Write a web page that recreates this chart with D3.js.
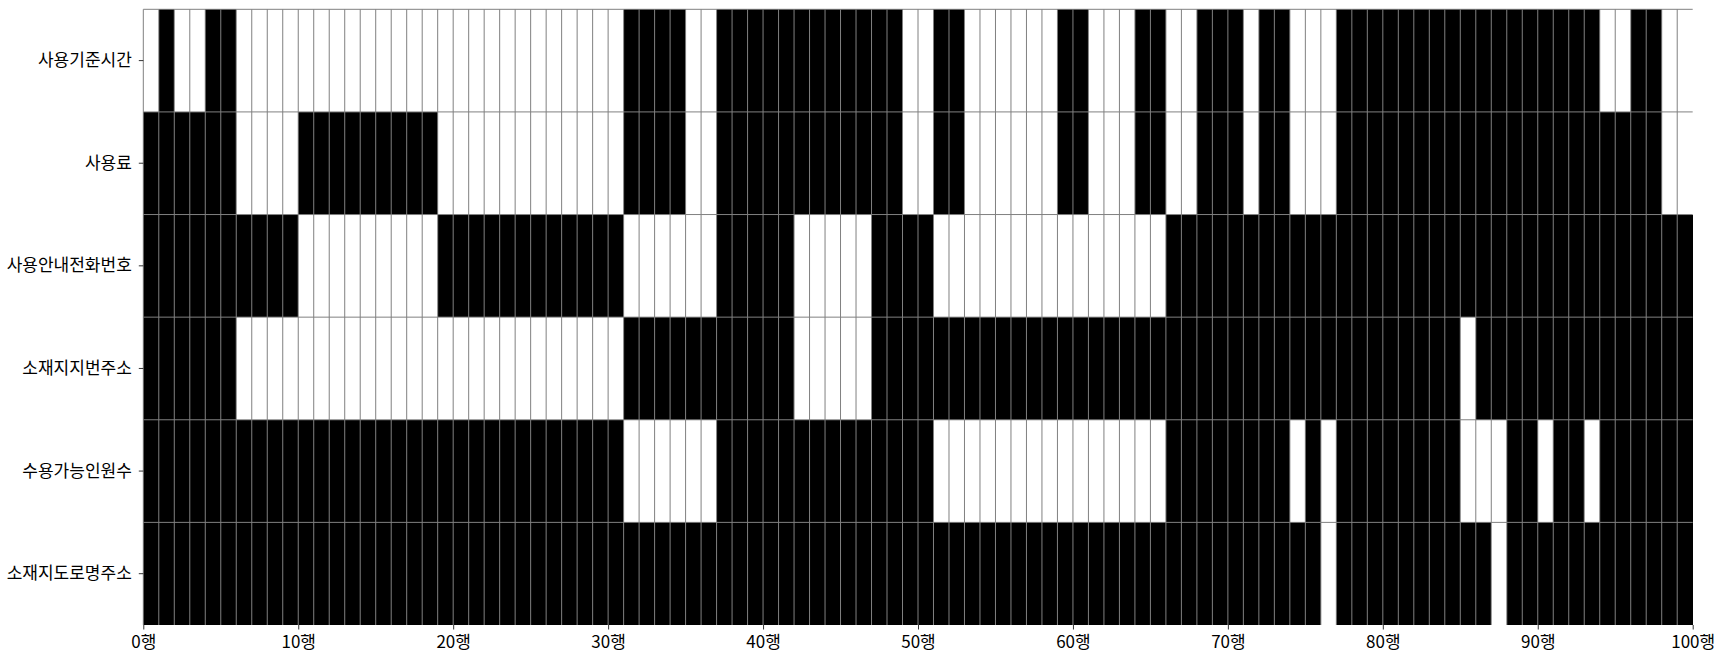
<!DOCTYPE html>
<html>
<head>
<meta charset="utf-8">
<script src="https://cdn.jsdelivr.net/npm/d3@7"></script>
<style>
  html, body { margin: 0; padding: 0; background: #fff; }
  svg { display: block; }
  text { font-family: "Noto Sans CJK KR", "Noto Sans", sans-serif; }
</style>
</head>
<body>
<svg id="chart" width="1725" height="662"></svg>
<script>
// Column names (rows of the heatmap)
const columns = ["사용기준시간", "사용료", "사용안내전화번호", "소재지지번주소", "수용가능인원수", "소재지도로명주소"];

// Presence (1 = value present / black, 0 = missing / white) for records 0..99
const 사용기준시간 = [
  0,1,0,0,1,1,0,0,0,0, 0,0,0,0,0,0,0,0,0,0, 0,0,0,0,0,0,0,0,0,0,
  0,1,1,1,1,0,0,1,1,1, 1,1,1,1,1,1,1,1,1,0, 0,1,1,0,0,0,0,0,0,1,
  1,0,0,0,1,1,0,0,1,1, 1,0,1,1,0,0,0,1,1,1, 1,1,1,1,1,1,1,1,1,1,
  1,1,1,1,0,0,1,1,0,0
];
const 사용료 = [
  1,1,1,1,1,1,0,0,0,0, 1,1,1,1,1,1,1,1,1,0, 0,0,0,0,0,0,0,0,0,0,
  0,1,1,1,1,0,0,1,1,1, 1,1,1,1,1,1,1,1,1,0, 0,1,1,0,0,0,0,0,0,1,
  1,0,0,0,1,1,0,0,1,1, 1,0,1,1,0,0,0,1,1,1, 1,1,1,1,1,1,1,1,1,1,
  1,1,1,1,1,1,1,1,0,0
];
const 사용안내전화번호 = [
  1,1,1,1,1,1,1,1,1,1, 0,0,0,0,0,0,0,0,0,1, 1,1,1,1,1,1,1,1,1,1,
  1,0,0,0,0,0,0,1,1,1, 1,1,0,0,0,0,0,1,1,1, 1,0,0,0,0,0,0,0,0,0,
  0,0,0,0,0,0,1,1,1,1, 1,1,1,1,1,1,1,1,1,1, 1,1,1,1,1,1,1,1,1,1,
  1,1,1,1,1,1,1,1,1,1
];
const 소재지지번주소 = [
  1,1,1,1,1,1,0,0,0,0, 0,0,0,0,0,0,0,0,0,0, 0,0,0,0,0,0,0,0,0,0,
  0,1,1,1,1,1,1,1,1,1, 1,1,0,0,0,0,0,1,1,1, 1,1,1,1,1,1,1,1,1,1,
  1,1,1,1,1,1,1,1,1,1, 1,1,1,1,1,1,1,1,1,1, 1,1,1,1,1,0,1,1,1,1,
  1,1,1,1,1,1,1,1,1,1
];
const 수용가능인원수 = [
  1,1,1,1,1,1,1,1,1,1, 1,1,1,1,1,1,1,1,1,1, 1,1,1,1,1,1,1,1,1,1,
  1,0,0,0,0,0,0,1,1,1, 1,1,1,1,1,1,1,1,1,1, 1,0,0,0,0,0,0,0,0,0,
  0,0,0,0,0,0,1,1,1,1, 1,1,1,1,0,1,0,1,1,1, 1,1,1,1,1,0,0,0,1,1,
  0,1,1,0,1,1,1,1,1,1
];
const 소재지도로명주소 = [
  1,1,1,1,1,1,1,1,1,1, 1,1,1,1,1,1,1,1,1,1, 1,1,1,1,1,1,1,1,1,1,
  1,1,1,1,1,1,1,1,1,1, 1,1,1,1,1,1,1,1,1,1, 1,1,1,1,1,1,1,1,1,1,
  1,1,1,1,1,1,1,1,1,1, 1,1,1,1,1,1,0,1,1,1, 1,1,1,1,1,1,1,0,1,1,
  1,1,1,1,1,1,1,1,1,1
];
const xTicks = [0, 10, 20, 30, 40, 50, 60, 70, 80, 90, 100];
const xTickSuffix = "행";

const rowsData = [사용기준시간, 사용료, 사용안내전화번호, 소재지지번주소, 수용가능인원수, 소재지도로명주소];
const nRecords = 사용기준시간.length;

const cells = [];
rowsData.forEach((arr, ri) => arr.forEach((v, ci) => cells.push({ row: columns[ri], i: ci, v })));

const svg = d3.select("#chart");
const mLeft = 143.3, mRight = 1692.7, mTop = 9.3, mBottom = 625;

const x = d3.scaleLinear().domain([0, nRecords]).range([mLeft, mRight]);
const y = d3.scaleBand().domain(columns).range([mTop, mBottom]).padding(0);
const color = d3.scaleOrdinal().domain([0, 1]).range(["#ffffff", "#000000"]);

const g = svg.append("g");
g.selectAll("rect.cell").data(cells).join("rect")
  .attr("class", "cell")
  .attr("x", d => x(d.i))
  .attr("y", d => y(d.row))
  .attr("width", d => x(d.i + 1) - x(d.i))
  .attr("height", y.bandwidth())
  .attr("fill", d => color(d.v))
  .attr("shape-rendering", "crispEdges");

// grid lines (left + top edges of each cell)
const grid = svg.append("g").attr("stroke", "#808080").attr("stroke-width", 1);
grid.selectAll("line.v").data(d3.range(nRecords)).join("line")
  .attr("x1", d => x(d)).attr("x2", d => x(d))
  .attr("y1", mTop).attr("y2", mBottom);
grid.selectAll("line.h").data(columns).join("line")
  .attr("x1", mLeft).attr("x2", mRight)
  .attr("y1", d => y(d)).attr("y2", d => y(d));

// axes
const xAxis = svg.append("g")
  .attr("transform", `translate(0,${mBottom})`)
  .call(d3.axisBottom(x).tickValues(xTicks).tickFormat(d => d + xTickSuffix).tickSize(4.5).tickPadding(6));
xAxis.select(".domain").remove();
xAxis.selectAll("text").attr("font-size", 17).attr("fill", "#000")
  .style("font-family", '"Noto Sans CJK KR", sans-serif');
xAxis.selectAll("line").attr("stroke", "#000").attr("stroke-width", 0.8);

const yAxis = svg.append("g")
  .attr("transform", `translate(${mLeft},0)`)
  .call(d3.axisLeft(y).tickSize(4.5).tickPadding(7));
yAxis.select(".domain").remove();
yAxis.selectAll("text").attr("font-size", 17).attr("fill", "#000")
  .style("font-family", '"Noto Sans CJK KR", sans-serif');
yAxis.selectAll("line").attr("stroke", "#000").attr("stroke-width", 0.8);
</script>
</body>
</html>
